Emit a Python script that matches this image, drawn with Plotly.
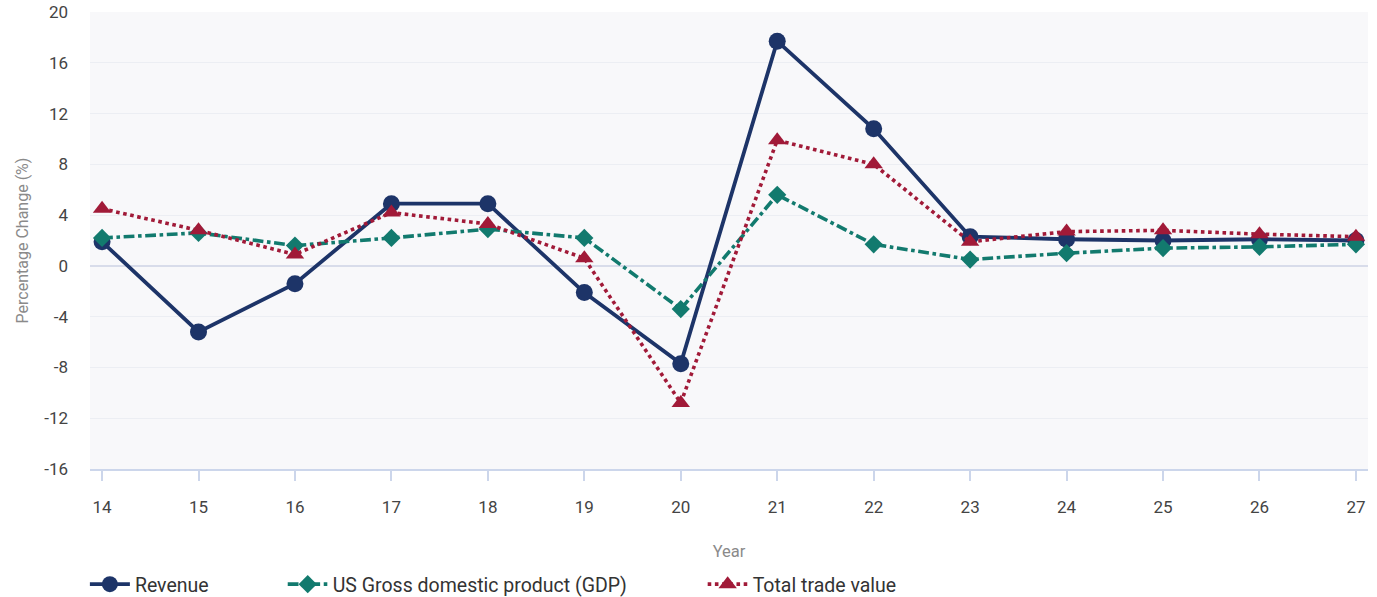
import plotly.graph_objects as go

years = [14, 15, 16, 17, 18, 19, 20, 21, 22, 23, 24, 25, 26, 27]
revenue = [1.9, -5.2, -1.4, 4.9, 4.9, -2.1, -7.7, 17.7, 10.8, 2.3, 2.1, 2.0, 2.1, 2.0]
gdp = [2.2, 2.6, 1.6, 2.2, 2.9, 2.2, -3.4, 5.6, 1.7, 0.5, 1.0, 1.4, 1.5, 1.7]
trade = [4.5, 2.8, 0.9, 4.2, 3.3, 0.6, -10.8, 9.9, 8.0, 1.9, 2.7, 2.8, 2.5, 2.3]
y_ticks = [-16, -12, -8, -4, 0, 4, 8, 12, 16, 20]

NAVY = "#1d3468"
TEAL = "#127a6e"
CRIMSON = "#a11a38"

fig = go.Figure()
fig.add_trace(go.Scatter(
    x=years, y=revenue, name="Revenue", mode="lines+markers",
    line=dict(color=NAVY, width=3.8),
    marker=dict(symbol="circle", size=17, color=NAVY),
    legend="legend",
))
fig.add_trace(go.Scatter(
    x=years, y=gdp, name="US Gross domestic product (GDP)", mode="lines+markers",
    line=dict(color=TEAL, width=3.6, dash="dashdot"),
    marker=dict(symbol="diamond", size=14, color=TEAL),
    legend="legend2",
))
fig.add_trace(go.Scatter(
    x=years, y=trade, name="Total trade value", mode="lines+markers",
    line=dict(color=CRIMSON, width=3.6, dash="dot"),
    marker=dict(symbol="triangle-up", size=16, color=CRIMSON),
    legend="legend3",
))

# legends sit in the bottom strip of the page, one per series
legend_style = dict(
    orientation="h", xanchor="left", yref="container", y=0.021, yanchor="middle",
    font=dict(size=19.5, color="#333333"), itemwidth=40,
    bgcolor="rgba(0,0,0,0)",
)

fig.update_layout(
    width=1377, height=597,
    margin=dict(l=90, r=9, t=12, b=128),
    paper_bgcolor="white",
    plot_bgcolor="#f8f8fa",
    font=dict(family="Roboto, Arial, sans-serif", size=17, color="#444444"),
    showlegend=True,
    legend=dict(x=-0.004, **legend_style),
    legend2=dict(x=0.1508, **legend_style),
    legend3=dict(x=0.4794, **legend_style),
    xaxis=dict(
        range=[13.875, 27.125], tickmode="array", tickvals=years,
        ticktext=[str(v) for v in years],
        showgrid=False, zeroline=False, automargin=False,
        showline=True, linecolor="#ccd6eb", linewidth=1.5,
        ticks="outside", ticklen=10, tickcolor="#ccd6eb", tickwidth=1.5,
        ticklabelstandoff=12,
        tickfont=dict(size=17, color="#444444"),
        title=dict(text="Year", font=dict(size=16.5, color="#8a8a8a"), standoff=29),
    ),
    yaxis=dict(
        range=[-16, 20], tickmode="array", tickvals=y_ticks,
        ticktext=[str(v) for v in y_ticks],
        showgrid=True, gridcolor="#eceef3", gridwidth=1,
        zeroline=True, zerolinecolor="#d8dcea", zerolinewidth=1.5,
        showline=False, ticks="", ticklabelstandoff=21, automargin=False,
        tickfont=dict(size=17, color="#444444"),
        title=dict(text="Percentage Change (%)", font=dict(size=16, color="#8a8a8a"), standoff=11),
    ),
)

fig.write_html("out.html")
